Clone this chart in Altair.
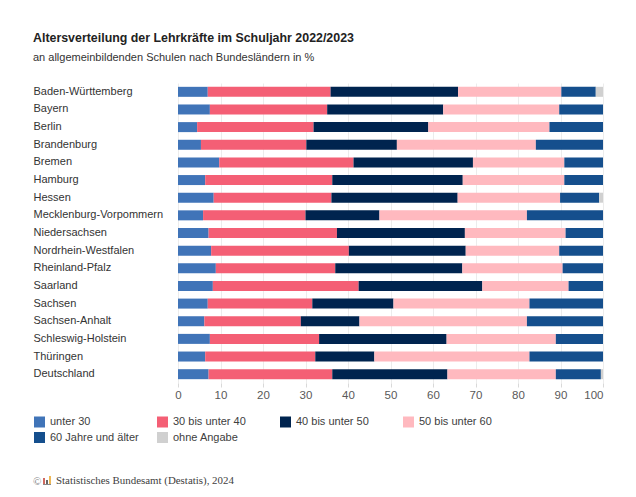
import altair as alt
import pandas as pd

regions = ["Baden-Württemberg","Bayern","Berlin","Brandenburg","Bremen","Hamburg","Hessen",
           "Mecklenburg-Vorpommern","Niedersachsen","Nordrhein-Westfalen","Rheinland-Pfalz",
           "Saarland","Sachsen","Sachsen-Anhalt","Schleswig-Holstein","Thüringen","Deutschland"]
groups = ["unter 30","30 bis unter 40","40 bis unter 50","50 bis unter 60","60 Jahre und älter","ohne Angabe"]
colors = ["#4074b8","#f45f75","#00244f","#ffb9bf","#154f8d","#d0d0d0"]

unter30 = [7.0,7.5,4.5,5.4,9.7,6.4,8.4,5.9,7.2,7.8,8.9,8.2,7.0,6.2,7.5,6.4,7.2]
a30_40 = [28.9,27.6,27.4,24.8,31.6,29.9,27.7,24.1,30.2,32.4,28.1,34.3,24.6,22.7,25.7,25.9,29.1]
a40_50 = [30.0,27.3,27.0,21.3,28.1,30.7,29.7,17.4,30.1,27.5,29.9,29.1,19.1,13.8,30.0,13.9,27.1]
a50_60 = [24.3,27.3,28.5,32.7,21.5,23.9,24.1,34.7,23.7,22.0,23.6,20.3,32.0,39.4,25.7,36.5,25.5]
a60 = [8.1,10.3,12.6,15.8,9.1,9.1,9.2,17.9,8.8,10.3,9.5,8.1,17.3,17.9,11.1,17.3,10.6]
ohne = [1.7,0,0,0,0,0,0.9,0,0,0,0,0,0,0,0,0,0.5]
series = [unter30,a30_40,a40_50,a50_60,a60,ohne]
ticks = list(range(0,101,10))

rows = []
for gi,(g,vals) in enumerate(zip(groups,series)):
    for r,v in zip(regions,vals):
        rows.append({"Land":r,"Gruppe":g,"Anteil":v,"ord":gi})
df = pd.DataFrame(rows)

FONT = "Liberation Sans"
legend_order = [groups[0],groups[3],groups[1],groups[4],groups[2],groups[5]]

bars = alt.Chart(df).mark_bar(size=10).encode(
    x=alt.X("Anteil:Q", stack="zero",
            scale=alt.Scale(domain=[0,100], nice=False),
            axis=alt.Axis(values=ticks, title=None, domain=False, format="d",
                          grid=True, gridColor="#ececec", gridWidth=1,
                          tickColor="#d9d9d9", tickSize=4, labelColor="#595959",
                          labelFontSize=11.5, labelPadding=2, labelFont=FONT,
                          labelAlign=alt.expr("datum.value==100?'right':'center'"))),
    y=alt.Y("Land:N", sort=regions,
            scale=alt.Scale(paddingInner=0.45, paddingOuter=0.225),
            axis=alt.Axis(title=None, domain=False, ticks=False, labelAlign="left",
                          labelPadding=145, labelLimit=200, labelColor="#333333",
                          labelFontSize=11, labelFont=FONT)),
    color=alt.Color("Gruppe:N",
                    scale=alt.Scale(domain=groups, range=colors),
                    legend=alt.Legend(orient="none", legendX=-144, legendY=333.5,
                                      columns=4, title=None, symbolType="square",
                                      symbolSize=121, symbolStrokeWidth=0, symbolOffset=0,
                                      labelFontSize=11, labelFont=FONT, labelColor="#404040",
                                      columnPadding=18, rowPadding=3.5, gridAlign="all",
                                      labelOffset=5, labelLimit=200, values=legend_order)),
    order=alt.Order("ord:Q"),
)

foot = alt.Chart(pd.DataFrame({"t":["Statistisches Bundesamt (Destatis), 2024"]})).mark_text(
    align="left", baseline="middle", font="Liberation Serif", fontSize=10.9, color="#404040"
).encode(x=alt.value(-122), y=alt.value(397.5), text="t:N")
copyr = alt.Chart(pd.DataFrame({"t":["©"]})).mark_text(
    align="left", baseline="middle", font="Liberation Serif", fontSize=11, color="#808080"
).encode(x=alt.value(-145), y=alt.value(398.5), text="t:N")

def logo_bar(x, y1, colr, w=1.5):
    return alt.Chart(pd.DataFrame({"a":[0]})).mark_rule(color=colr, strokeWidth=w).encode(
        x=alt.value(x), y=alt.value(y1), y2=alt.value(401))

logo = (logo_bar(-134,395,"#c0392b") + logo_bar(-131,397,"#333333") + logo_bar(-128,393,"#e8a020")
        + alt.Chart(pd.DataFrame({"a":[0]})).mark_rule(color="#8a8a8a", strokeWidth=1).encode(
            x=alt.value(-135), x2=alt.value(-127), y=alt.value(401.5)))

chart = (bars + foot + copyr + logo).properties(
    width=425, height=300,
    title=alt.TitleParams("Altersverteilung der Lehrkräfte im Schuljahr 2022/2023",
        subtitle="an allgemeinbildenden Schulen nach Bundesländern in %",
        anchor="start", frame="bounds", font=FONT, fontSize=12.4, fontWeight="bold", color="#222222",
        subtitleFont=FONT, subtitleFontSize=11, subtitleColor="#333333", subtitlePadding=8, offset=20),
    padding={"left":25,"top":23,"right":20,"bottom":10},
    background="white",
).configure_view(stroke=None)

chart.save("out.html", embed_options={"renderer":"svg","actions":False})
